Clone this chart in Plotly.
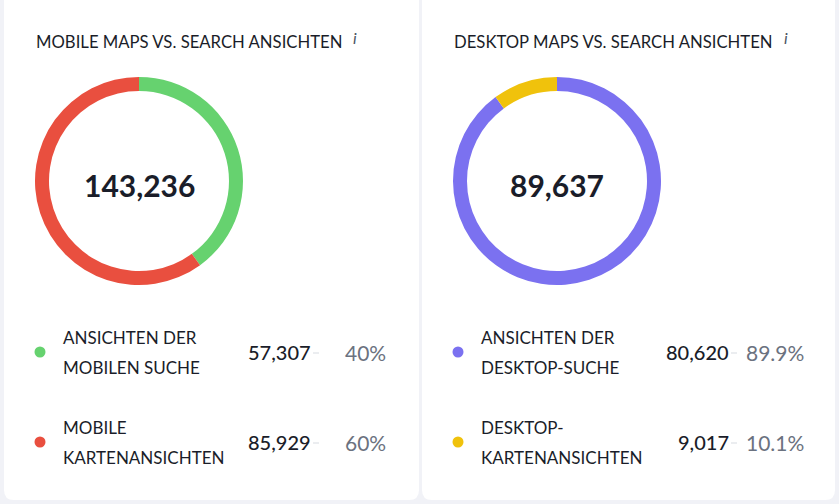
import plotly.graph_objects as go

W, H = 839, 504

# ---- data ----
mobile_labels = [["ANSICHTEN DER", "MOBILEN SUCHE"], ["MOBILE", "KARTENANSICHTEN"]]
mobile_values = [57307, 85929]
mobile_pct = ["40%", "60%"]
mobile_colors = ["#66d26f", "#e94f3f"]
mobile_title = "MOBILE MAPS VS. SEARCH ANSICHTEN"

desktop_labels = [["ANSICHTEN DER", "DESKTOP-SUCHE"], ["DESKTOP-", "KARTENANSICHTEN"]]
desktop_values = [80620, 9017]
desktop_pct = ["89.9%", "10.1%"]
desktop_colors = ["#7b71f0", "#f0c20c"]
desktop_title = "DESKTOP MAPS VS. SEARCH ANSICHTEN"

FONT = "Lato"
DARK = "#1a1d29"


def px(x):
    return x / W


def py(y):
    return 1 - y / H


def rounded_rect(x0, y0, x1, y1, r):
    return (f"M {x0+r},{y0} L {x1-r},{y0} Q {x1},{y0} {x1},{y0+r} "
            f"L {x1},{y1-r} Q {x1},{y1} {x1-r},{y1} L {x0+r},{y1} "
            f"Q {x0},{y1} {x0},{y1-r} L {x0},{y0+r} Q {x0},{y0} {x0+r},{y0} Z")


fig = go.Figure()
shapes = []
annotations = []

panels = [
    dict(x0=4, x1=419, cx=139, title=mobile_title, labels=mobile_labels,
         values=mobile_values, pct=mobile_pct, colors=mobile_colors,
         title_x=34, info_x=355, dot_x=40, label_x=61, val_x=313, pct_x=388),
    dict(x0=422, x1=835, cx=557, title=desktop_title, labels=desktop_labels,
         values=desktop_values, pct=desktop_pct, colors=desktop_colors,
         title_x=452, info_x=786, dot_x=458, label_x=479, val_x=731, pct_x=806),
]

R = 104
CY = 181

for p in panels:
    # card background
    shapes.append(dict(type="path", xref="x", yref="y",
                       path=rounded_rect(p["x0"], -10, p["x1"], 500, 10),
                       fillcolor="white", line=dict(width=0), layer="below"))
    fig.add_trace(go.Pie(
        values=p["values"], labels=[" ".join(l) for l in p["labels"]],
        marker=dict(colors=p["colors"], line=dict(width=0)),
        hole=(R - 14) / R, sort=False, direction="clockwise", rotation=0,
        textinfo="none", hoverinfo="label+value+percent", showlegend=False,
        domain=dict(x=[px(p["cx"] - R), px(p["cx"] + R)],
                    y=[py(CY + R), py(CY - R)]),
    ))
    total = sum(p["values"])
    annotations.append(dict(x=p["cx"], y=CY + 4, xref="x", yref="y",
                            text=f"{total:,}", showarrow=False,
                            font=dict(family=FONT, size=30, color=DARK, weight=700),
                            xanchor="center", yanchor="middle"))
    annotations.append(dict(x=p["title_x"], y=42, xref="x", yref="y",
                            text=p["title"], showarrow=False,
                            font=dict(family=FONT, size=16.7, color=DARK),
                            xanchor="left", yanchor="middle"))
    annotations.append(dict(x=p["info_x"], y=37, xref="x", yref="y",
                            text="<i>i</i>", showarrow=False,
                            font=dict(family=FONT, size=16, color="#4b5563"),
                            xanchor="center", yanchor="middle"))
    for i, (lab, val, pc, col) in enumerate(zip(p["labels"], p["values"], p["pct"], p["colors"])):
        yy = 352 + i * 90
        shapes.append(dict(type="circle", xref="x", yref="y",
                           x0=p["dot_x"] - 5.5, x1=p["dot_x"] + 5.5,
                           y0=yy - 5.5, y1=yy + 5.5,
                           fillcolor=col, line=dict(width=0)))
        for k, line in enumerate(lab):
            annotations.append(dict(x=p["label_x"], y=yy - 15 + 30 * k, xref="x", yref="y",
                                    text=line, showarrow=False, align="left",
                                    font=dict(family=FONT, size=17, color=DARK),
                                    xanchor="left", yanchor="middle"))
        annotations.append(dict(x=p["val_x"], y=yy, xref="x", yref="y",
                                text=f"{val:,}", showarrow=False,
                                font=dict(family=FONT, size=20, color=DARK, weight=500),
                                xanchor="right", yanchor="middle"))
        shapes.append(dict(type="line", xref="x", yref="y",
                           x0=p["val_x"], x1=p["val_x"] + 6, y0=yy + 1, y1=yy + 1,
                           line=dict(color="#e5e7eb", width=1.5)))
        annotations.append(dict(x=p["pct_x"], y=yy, xref="x", yref="y",
                                text=pc, showarrow=False,
                                font=dict(family=FONT, size=21, color="#6b7280"),
                                xanchor="right", yanchor="middle"))

fig.update_layout(
    width=W, height=H,
    margin=dict(l=0, r=0, t=0, b=0),
    paper_bgcolor="#f1f2f7", plot_bgcolor="rgba(0,0,0,0)",
    xaxis=dict(range=[0, W], visible=False, fixedrange=True),
    yaxis=dict(range=[H, 0], visible=False, fixedrange=True),
    shapes=shapes, annotations=annotations,
    showlegend=False,
)

fig.write_html("out.html", config=dict(displayModeBar=False),
               post_script="document.body.style.margin='0';document.body.style.background='#f1f2f7';")
